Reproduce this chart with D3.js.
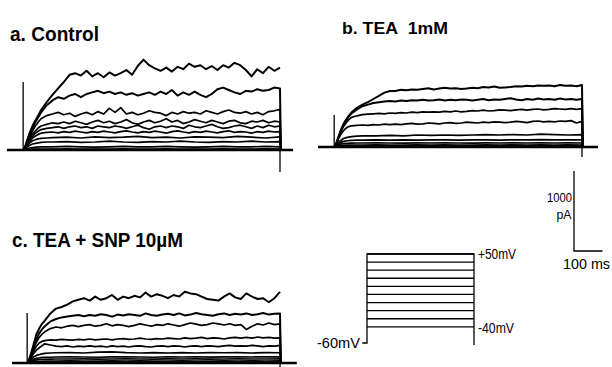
<!DOCTYPE html>
<html>
<head>
<meta charset="utf-8">
<script src="https://cdn.jsdelivr.net/npm/d3@7"></script>
<style>
body { margin: 0; background: #fff; }
text { font-family: "Liberation Sans Narrow", "Arial Narrow", "Liberation Sans", Arial, sans-serif; fill: #000; }
</style>
</head>
<body>
<div id="fig"></div>
<script>
var width = 612, height = 367;

// Sample times in ms from step onset.
var tFine = [0, 10, 20, 30, 40, 50, 60,
	80, 100, 120, 140, 160, 180, 200,
	220, 240, 260, 280, 300, 320, 340,
	360, 380, 400, 420, 440, 460, 480,
	500, 520, 540, 560, 580, 600, 620,
	640, 660, 680, 700, 720, 740, 760,
	780, 800, 820, 840, 860, 880, 900];
var tCoarse = [0, 10, 20, 30, 45, 60, 80, 100,
	150, 200, 250, 300, 350, 400, 450, 500,
	550, 600, 650, 700, 750, 800, 850, 900];

// Currents in pA, +50 mV step first. Noisy traces on tFine, small ones on tCoarse.
var controlFine = [
	[0, 110, 215, 300, 370, 430, 500,
	600, 690, 770, 850, 940, 960, 930,
	990, 920, 960, 910, 970, 930, 960,
	1000, 940, 1050, 1130, 1060, 1020, 990,
	1030, 980, 1040, 1010, 1080, 1040, 1060,
	1010, 1050, 1000, 1060, 1030, 1090, 1060,
	1000, 920, 1010, 960, 1040, 990, 1030],
	[0, 100, 200, 280, 350, 410, 470,
	560, 620, 660, 640, 680, 700, 660,
	700, 720, 740, 710, 730, 700, 720,
	690, 710, 680, 700, 720, 690, 730,
	700, 750, 680, 720, 690, 730, 690,
	660, 700, 760, 780, 750, 720, 700,
	740, 730, 760, 740, 750, 780, 770],
	[0, 90, 170, 240, 300, 350, 390,
	430, 450, 470, 440, 460, 420, 450,
	470, 440, 480, 450, 520, 470, 530,
	450, 470, 440, 460, 490, 470, 460,
	430, 470, 450, 480, 460, 470, 450,
	490, 470, 450, 480, 500, 470, 460,
	480, 450, 470, 440, 480, 490, 510],
	[0, 80, 150, 200, 240, 275, 300,
	320, 340, 330, 350, 330, 360, 340,
	320, 350, 370, 340, 360, 330, 350,
	380, 340, 320, 350, 370, 340, 360,
	390, 350, 370, 330, 350, 380, 360,
	340, 370, 350, 330, 360, 370, 340,
	330, 360, 350, 370, 340, 360, 350],
	[0, 70, 130, 175, 210, 235, 255,
	270, 280, 290, 270, 290, 300, 280,
	290, 270, 300, 290, 280, 300, 290,
	270, 290, 310, 280, 260, 290, 300,
	280, 300, 290, 270, 310, 290, 280,
	300, 320, 290, 270, 280, 300, 310,
	290, 270, 300, 280, 310, 290, 300],
	[0, 60, 110, 150, 175, 195, 210,
	220, 225, 215, 230, 220, 235, 225,
	215, 230, 220, 235, 225, 215, 230,
	240, 225, 215, 230, 220, 235, 225,
	210, 230, 240, 225, 215, 230, 220,
	235, 225, 215, 230, 240, 220, 230,
	225, 210, 230, 220, 235, 225, 230]
];
var controlCoarse = [
	[0, 50, 90, 115, 135, 145, 150, 155,
	160, 150, 165, 155, 160, 170, 155, 160,
	150, 165, 160, 155, 170, 160, 150, 165],
	[0, 35, 60, 75, 85, 95, 100, 100,
	105, 95, 100, 110, 100, 95, 105, 100,
	110, 100, 95, 105, 100, 110, 100, 105],
	[0, 15, 25, 30, 35, 40, 40, 40,
	45, 40, 35, 40, 45, 40, 40, 45,
	40, 35, 40, 45, 40, 40, 45, 40],
	[0, 5, 8, 10, 12, 12, 12, 12,
	14, 12, 10, 12, 14, 12, 12, 14,
	12, 10, 12, 14, 12, 12, 14, 12]
];

var teaFine = [
	[0, 100, 200, 280, 340, 390, 430,
	490, 530, 560, 600, 640, 680, 700,
	700, 715, 710, 720, 715, 725, 735,
	720, 730, 740, 730, 735, 725, 730,
	740, 735, 750, 745, 755, 740, 745,
	750, 760, 755, 765, 760, 770, 765,
	770, 760, 775, 765, 770, 760, 775],
	[0, 100, 190, 270, 330, 380, 420,
	470, 510, 530, 550, 560, 570, 575,
	570, 580, 575, 585, 580, 590, 580,
	585, 595, 580, 590, 585, 595, 590,
	580, 590, 600, 585, 595, 590, 600,
	610, 595, 585, 600, 590, 605, 595,
	600, 590, 605, 595, 600, 590, 600],
	[0, 95, 180, 250, 300, 340, 370,
	390, 405, 410, 415, 420, 415, 425,
	420, 430, 425, 435, 430, 440, 435,
	440, 435, 445, 440, 450, 440, 445,
	455, 450, 460, 450, 455, 465, 460,
	455, 465, 470, 460, 470, 475, 465,
	470, 480, 475, 470, 480, 470, 480],
	[0, 80, 150, 200, 235, 255, 265,
	270, 275, 270, 280, 275, 285, 280,
	285, 280, 290, 295, 285, 290, 300,
	295, 290, 300, 305, 295, 300, 310,
	305, 300, 310, 305, 315, 310, 305,
	310, 320, 315, 305, 320, 325, 315,
	320, 315, 325, 320, 330, 300, 320]
];
var teaCoarse = [
	[0, 45, 80, 105, 120, 130, 135, 140,
	140, 145, 140, 150, 145, 150, 145, 150,
	155, 150, 155, 150, 160, 155, 150, 155],
	[0, 30, 55, 70, 78, 82, 85, 85,
	88, 85, 90, 85, 88, 90, 85, 88,
	90, 85, 90, 88, 92, 88, 90, 88],
	[0, 20, 35, 42, 46, 48, 50, 50,
	52, 50, 48, 52, 50, 52, 50, 48,
	52, 50, 52, 50, 52, 50, 52, 50],
	[0, 10, 18, 22, 24, 25, 25, 25,
	26, 25, 24, 26, 25, 26, 25, 24,
	26, 25, 26, 25, 26, 25, 26, 25],
	[0, 5, 8, 10, 11, 12, 12, 12,
	12, 13, 12, 12, 13, 12, 12, 13,
	12, 12, 13, 12, 12, 13, 12, 12],
	[0, 2, 3, 4, 5, 5, 5, 5,
	5, 5, 5, 5, 5, 5, 5, 5,
	5, 5, 5, 5, 5, 5, 5, 5]
];

var snpFine = [
	[0, 110, 230, 360, 430, 490, 530,
	620, 680, 700, 730, 770, 790, 810,
	780, 830, 790, 810, 850, 790, 830,
	810, 840, 820, 880, 830, 860, 840,
	810, 850, 830, 890, 870, 860, 830,
	800, 790, 780, 830, 870, 820, 800,
	870, 830, 800, 810, 760, 810, 890],
	[0, 100, 200, 300, 370, 420, 460,
	520, 550, 570, 580, 590, 600, 585,
	600, 590, 610, 600, 580, 605, 595,
	610, 600, 590, 620, 600, 590, 605,
	615, 600, 620, 595, 605, 625, 610,
	600, 590, 610, 620, 600, 615, 605,
	620, 600, 610, 625, 605, 615, 620],
	[0, 90, 180, 260, 320, 360, 390,
	430, 450, 440, 460, 470, 455, 470,
	480, 460, 470, 490, 465, 480, 470,
	455, 470, 490, 475, 460, 480, 470,
	490, 475, 460, 480, 500, 485, 470,
	480, 500, 490, 475, 490, 470, 480,
	420, 460, 490, 475, 500, 480, 490],
	[0, 80, 150, 210, 250, 270, 280,
	290, 285, 295, 290, 285, 295, 290,
	300, 290, 295, 300, 290, 300, 305,
	295, 300, 310, 300, 295, 305, 300,
	310, 305, 300, 315, 305, 310, 320,
	305, 315, 310, 300, 315, 320, 310,
	320, 310, 325, 315, 320, 310, 315],
	[0, 60, 120, 160, 190, 215, 240,
	225, 210, 205, 215, 200, 210, 205,
	215, 205, 210, 200, 215, 205, 210,
	200, 210, 215, 205, 200, 210, 215,
	205, 215, 210, 200, 210, 215, 205,
	215, 210, 205, 215, 220, 210, 215,
	210, 220, 215, 205, 215, 210, 220]
];
var snpCoarse = [
	[0, 40, 75, 95, 110, 120, 125, 128,
	130, 125, 135, 140, 130, 125, 130, 125,
	130, 125, 130, 128, 130, 125, 130, 128],
	[0, 25, 45, 58, 66, 70, 72, 75,
	78, 75, 72, 76, 78, 75, 72, 78,
	75, 78, 74, 76, 78, 75, 78, 76],
	[0, 15, 30, 38, 44, 47, 48, 50,
	50, 52, 48, 50, 52, 50, 48, 52,
	50, 52, 48, 50, 52, 50, 50, 52],
	[0, 8, 15, 19, 22, 24, 25, 25,
	26, 25, 24, 26, 25, 26, 24, 25,
	26, 25, 24, 26, 25, 26, 25, 26],
	[0, 3, 6, 8, 9, 10, 10, 10,
	10, 11, 10, 10, 11, 10, 10, 11,
	10, 10, 11, 10, 10, 11, 10, 10]
];

var panelTitles = ["a. Control", "b. TEA\u00a0 1mM", "c. TEA + SNP 10\u00b5M"];
var onsetSpike = [850, 400, 625];     // capacitive transients, pA
var offsetSpike = [-275, -125, -60];
var stepVoltages = [50, 40, 30, 20, 10, 0, -10, -20, -30, -40];
var holdingVoltage = -60;
var stepDuration = 900;
var scaleBarPA = 1000, scaleBarMs = 100;

var svg = d3.select("#fig").append("svg")
	.attr("width", width)
	.attr("height", height);

// where each panel sits on the page
var panels = [
	{fine: controlFine, coarse: controlCoarse, x0: 24, x1: 280, base: 150, pre: -60, post: 946, topTail: false,
		tx: 10, ty: 41, tsize: 21, tlen: 89},
	{fine: teaFine, coarse: teaCoarse, x0: 335, x1: 582, base: 147, pre: -62, post: 958, topTail: true,
		tx: 342, ty: 33.5, tsize: 17, tlen: 106},
	{fine: snpFine, coarse: snpCoarse, x0: 28, x1: 280, base: 363, pre: -57, post: 960, topTail: false,
		tx: 12, ty: 247, tsize: 20, tlen: 171}
];

function drawPanel(p, i) {
	var x = d3.scaleLinear().domain([0, stepDuration]).range([p.x0, p.x1]);
	var y = d3.scaleLinear().domain([0, 1000]).range([p.base, p.base - 80]);
	var line = d3.line().x(function(d){ return x(d[0]); }).y(function(d){ return y(d[1]); });
	var g = svg.append("g").attr("id", "panel" + i)
		.attr("fill", "none").attr("stroke", "#000").attr("stroke-linejoin", "round");

	var traces = p.fine.map(function(v){ return [tFine, v]; })
		.concat(p.coarse.map(function(v){ return [tCoarse, v]; }));

	traces.forEach(function(tr, k){
		var pts = tr[0].map(function(t, j){ return [t, tr[1][j]]; });
		if (k > 0 || p.topTail) pts.push([stepDuration + 3, 0]);
		g.append("path")
			.attr("d", line(pts))
			.attr("stroke-width", k < 2 ? 2 : 1.7);
	});

	// holding baseline, where all the small traces pile up
	g.append("path").attr("d", line([[p.pre, 0], [p.post, 0]])).attr("stroke-width", 2.6);
	// capacitive transients
	g.append("path").attr("d", line([[-3, 0], [-3, onsetSpike[i]]])).attr("stroke-width", 1.3);
	g.append("path").attr("d", line([[stepDuration, 0], [stepDuration, offsetSpike[i]]])).attr("stroke-width", 1.3);

	svg.append("text")
		.attr("x", p.tx).attr("y", p.ty)
		.attr("font-size", p.tsize).attr("font-weight", "bold")
		.attr("textLength", p.tlen).attr("lengthAdjust", "spacingAndGlyphs")
		.text(panelTitles[i]);
	return {x: x, y: y};
}

var sc = panels.map(drawPanel);

// Scale bar, using panel a's scales
var bx = 574, by = 251;
var barLen = sc[0].y(0) - sc[0].y(scaleBarPA);
var barW = sc[0].x(scaleBarMs) - sc[0].x(0);
svg.append("path")
	.attr("d", "M" + bx + "," + (by - barLen) + "V" + by + "H" + (bx + barW))
	.attr("fill", "none").attr("stroke", "#000").attr("stroke-width", 1.3);

function label(txt, x, y, len, anchor, size) {
	svg.append("text")
		.attr("x", x).attr("y", y)
		.attr("font-size", size || 13)
		.attr("text-anchor", anchor || "start")
		.attr("textLength", len).attr("lengthAdjust", "spacingAndGlyphs")
		.text(txt);
}
label("1000", 572, 202, 25, "end", 13.5);
label("pA", 564, 219, 15, "middle", 13.5);
label("100 ms", 563, 269, 47, "start", 14);

// Voltage protocol
var vx = d3.scaleLinear().domain([0, stepDuration]).range([367, 474]);
var vy = d3.scaleLinear().domain([holdingVoltage, 50]).range([343, 254]);
var pg = svg.append("g").attr("fill", "none").attr("stroke", "#000").attr("stroke-width", 1.3);
pg.append("path")
	.attr("d", "M" + vx(-40) + "," + vy(holdingVoltage) + "H" + vx(0) + "V" + vy(d3.max(stepVoltages))
		+ "H" + vx(stepDuration) + "V" + (vy(holdingVoltage) + 2));
pg.selectAll("line.step").data(stepVoltages).enter().append("line")
	.attr("x1", vx(0)).attr("x2", vx(stepDuration))
	.attr("y1", function(d){ return vy(d); }).attr("y2", function(d){ return vy(d); });

label("+50mV", 478, vy(50) + 5, 38, "start", 14);
label("-40mV", 478, vy(-40) + 6, 36, "start", 14);
label("-60mV", 360, vy(holdingVoltage) + 5, 43, "end", 14);
</script>
</body>
</html>
